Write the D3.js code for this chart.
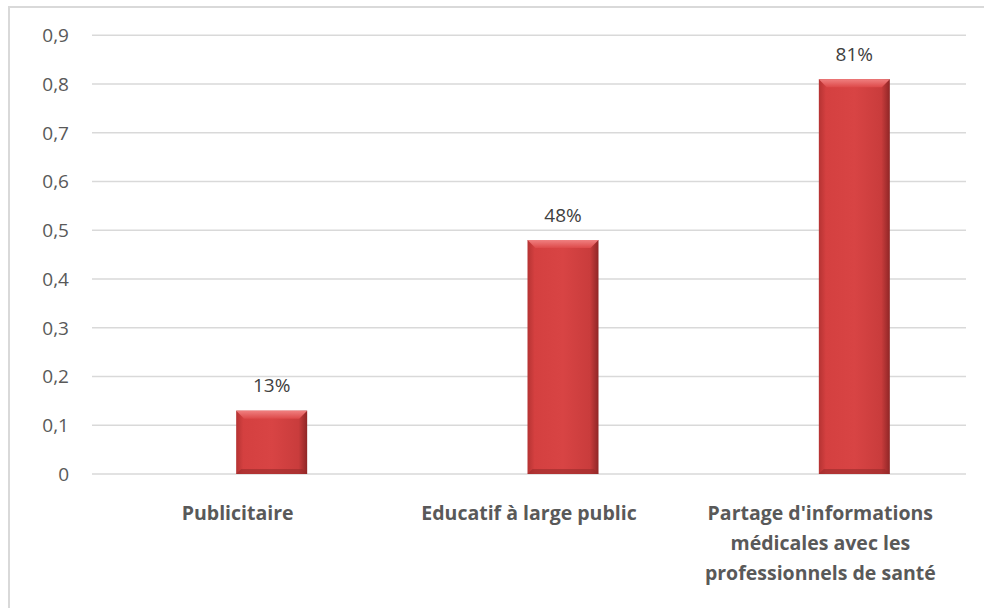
<!DOCTYPE html>
<html><head><meta charset="utf-8">
<script src="https://cdn.jsdelivr.net/npm/d3@7"></script>
<style>body{margin:0;background:#fff}svg{display:block}</style>
</head><body>
<script>
const categories = [["Publicitaire"], ["Educatif à large public"], ["Partage d'informations", "médicales avec les", "professionnels de santé"]];
const values = [0.13, 0.48, 0.81];
const valueLabels = ["13%", "48%", "81%"];
const yTicks = [0, 0.1, 0.2, 0.3, 0.4, 0.5, 0.6, 0.7, 0.8, 0.9];

const W = 984, H = 608;
const svg = d3.select("body").append("svg").attr("width", W).attr("height", H);
const font = "'Open Sans', sans-serif";

svg.append("rect").attr("x", 9).attr("y", 7).attr("width", 990).attr("height", 620)
  .attr("fill", "#fff").attr("stroke", "#d9d9d9").attr("stroke-width", 2);

const x = d3.scaleBand().domain(d3.range(categories.length)).range([92, 966]);
const y = d3.scaleLinear().domain([0, 0.9]).range([474, 35.25]);

const defs = svg.append("defs");
const g1 = defs.append("linearGradient").attr("id", "barG").attr("x1", 0).attr("x2", 1).attr("y1", 0).attr("y2", 0);
g1.append("stop").attr("offset", "0").attr("stop-color", "#b53333");
g1.append("stop").attr("offset", "0.1").attr("stop-color", "#d44040");
g1.append("stop").attr("offset", "0.5").attr("stop-color", "#d84444");
g1.append("stop").attr("offset", "0.88").attr("stop-color", "#c93c3c");
g1.append("stop").attr("offset", "1").attr("stop-color", "#8f2626");
const g2 = defs.append("linearGradient").attr("id", "topG").attr("x1", 0).attr("x2", 0).attr("y1", 0).attr("y2", 1);
g2.append("stop").attr("offset", "0").attr("stop-color", "#f08080");
g2.append("stop").attr("offset", "1").attr("stop-color", "#dd4a4a");

// gridlines
svg.append("g").selectAll("line").data(yTicks).join("line")
  .attr("x1", 92).attr("x2", 966).attr("y1", d => y(d)).attr("y2", d => y(d))
  .attr("stroke", "#d9d9d9").attr("stroke-width", 1.5);

// y labels
svg.append("g").selectAll("text").data(yTicks).join("text")
  .attr("x", 69).attr("y", d => y(d)).attr("dy", "0.36em").attr("text-anchor", "end")
  .attr("font-family", font).attr("font-size", 19).attr("fill", "#595959")
  .text(d => d === 0 ? "0" : d3.format(".1f")(d).replace(".", ","));

const bw = 71, off = 34;
const bars = svg.append("g").selectAll("g").data(values).join("g");
bars.append("rect")
  .attr("x", (d, i) => x(i) + x.bandwidth() / 2 + off - bw / 2)
  .attr("y", d => y(d)).attr("width", bw).attr("height", d => y(0) - y(d))
  .attr("fill", "url(#barG)");
bars.append("path")
  .attr("d", (d, i) => {
    const x0 = x(i) + x.bandwidth() / 2 + off - bw / 2, y0 = y(d);
    return `M${x0},${y0}L${x0 + bw},${y0}L${x0 + bw - 8},${y0 + 8}L${x0 + 8},${y0 + 8}Z`;
  })
  .attr("fill", "url(#topG)");
bars.append("path")
  .attr("d", (d, i) => {
    const x0 = x(i) + x.bandwidth() / 2 + off - bw / 2, y0 = y(0);
    return `M${x0},${y0}L${x0 + bw},${y0}L${x0 + bw - 5},${y0 - 5}L${x0 + 5},${y0 - 5}Z`;
  })
  .attr("fill", "#9a2b2b").attr("opacity", 0.6);

// value labels
svg.append("g").selectAll("text").data(values).join("text")
  .attr("x", (d, i) => x(i) + x.bandwidth() / 2 + off)
  .attr("y", d => y(d) - 25).attr("dy", "0.36em").attr("text-anchor", "middle")
  .attr("font-family", font).attr("font-size", 19).attr("fill", "#404040")
  .text((d, i) => valueLabels[i]);

// category labels
const cg = svg.append("g").selectAll("text").data(categories).join("text")
  .attr("text-anchor", "middle").attr("font-family", font).attr("font-size", 19.5)
  .attr("font-weight", "bold").attr("fill", "#595959");
cg.each(function (lines, i) {
  const t = d3.select(this);
  lines.forEach((l, j) => {
    t.append("tspan").attr("x", x(i) + x.bandwidth() / 2)
      .attr("y", 513 + j * 30).attr("dy", "0.36em").text(l);
  });
});
</script>
</body></html>
